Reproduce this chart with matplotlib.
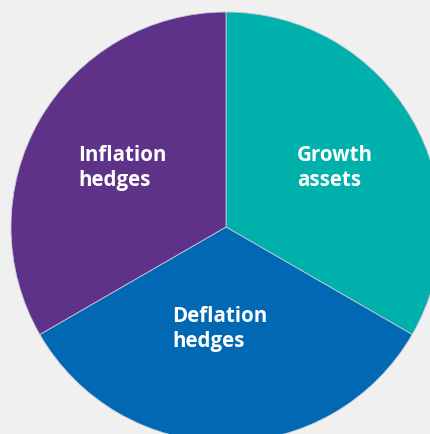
import matplotlib.pyplot as plt

# equal thirds, clockwise from 12 o'clock
labels = ['Growth\nassets', 'Deflation\nhedges', 'Inflation\nhedges']
shares = [1, 1, 1]
colors = ['#00b0aa', '#0168b3', '#5f3289']
# label anchor points in pixels (x, y from top)
label_pos = [(297, 168), (172, 329), (78, 168)]

W, H = 430, 435
cx, cy, r = 226, 228, 215

fig = plt.figure(figsize=(W / 100, H / 100), dpi=100)
fig.patch.set_facecolor('#f0f0f0')
ax = fig.add_axes([0, 0, 1, 1])
ax.set_facecolor('#f0f0f0')

ax.pie(shares, colors=colors, startangle=90, counterclock=False,
       radius=1, center=(0, 0),
       wedgeprops=dict(edgecolor='#c8c8d8', linewidth=0.6))

ax.set_xlim(-cx / r, (W - cx) / r)
ax.set_ylim(-(H - cy) / r, cy / r)
ax.set_aspect('auto')
ax.axis('off')

for lab, (px, py) in zip(labels, label_pos):
    ax.text(px / W, 1 - py / H, lab, transform=ax.transAxes,
            ha='left', va='center', multialignment='left',
            color='white', fontsize=14.8, fontweight='bold',
            family='Open Sans', linespacing=1.25)

fig.savefig('out.png', dpi=100, facecolor=fig.get_facecolor())
